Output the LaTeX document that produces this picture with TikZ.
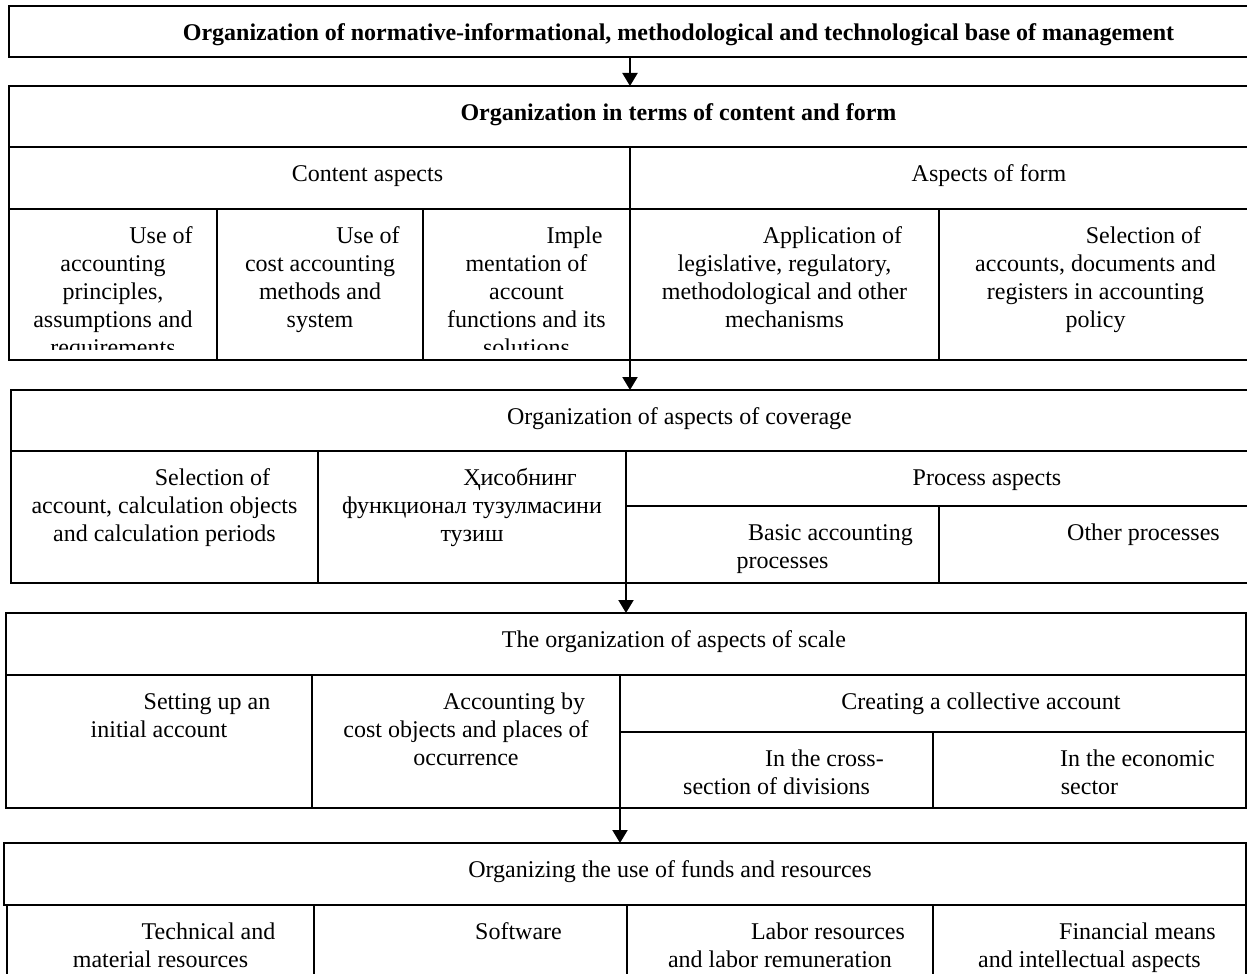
\documentclass[tikz,border=0pt]{standalone}
\usepackage{fontspec}
\setmainfont{Liberation Serif}
\usetikzlibrary{arrows.meta}
\tikzset{
  cellbox/.style={draw, line width=1pt, rectangle, inner sep=0pt, outer sep=0pt},
  txt/.style={font=\fontsize{12}{14}\selectfont, align=center, anchor=north, inner sep=0pt},
  arr/.style={line width=1pt, -{Triangle[width=7.5pt,length=6.5pt]}}
}
\newcommand\mycell[5]{\node[cellbox, anchor=north west, minimum width={(#4-#2)*0.5pt}, minimum height={(#5-#3)*0.5pt}] (#1) at (#2,#3) {};}
\newcommand\mytext[4]{\node[txt] (#1) at (#2,#3) {\strut\hspace*{48pt}#4};}
\begin{document}
\begin{tikzpicture}[x=0.5pt,y=-0.5pt]
\clip (0,0) rectangle (1247,974);
\fill[white] (0,0) rectangle (1247,974);
% ---------- box 1
\mycell{b1}{9}{6}{1252}{57}
\mytext{t1}{630.5}{20.4}{\bfseries Organization of normative-informational, methodological and technological base of management}
% ---------- box 2
\mycell{b2t}{9}{86}{1252}{147}
\mytext{t2}{630.5}{100.4}{\bfseries Organization in terms of content and form}
\mycell{b2a}{9}{147}{630}{209}
\mycell{b2b}{630}{147}{1252}{209}
\mytext{t2a}{319.5}{161.4}{Content aspects}
\mytext{t2b}{941}{161.4}{Aspects of form}
\mycell{c1}{9}{209}{217}{360}
\mycell{c2}{217}{209}{423}{360}
\mycell{c3}{423}{209}{630}{360}
\mycell{c4}{630}{209}{939}{360}
\mycell{c5}{939}{209}{1252}{360}
\begin{scope}
\clip (9,209) rectangle (1252,349);
\mytext{tc1}{113}{223.4}{Use of\\\strut accounting\\\strut principles,\\\strut assumptions and\\\strut requirements}
\mytext{tc2}{320}{223.4}{Use of\\\strut cost accounting\\\strut methods and\\\strut system}
\mytext{tc3}{526.5}{223.4}{Imple\\\strut mentation of\\\strut account\\\strut functions and its\\\strut solutions}
\mytext{tc4}{784.5}{223.4}{Application of\\\strut legislative, regulatory,\\\strut methodological and other\\\strut mechanisms}
\mytext{tc5}{1095.5}{223.4}{Selection of\\\strut accounts, documents and\\\strut registers in accounting\\\strut policy}
\end{scope}
% ---------- box 3
\mycell{b3t}{11}{390}{1252}{451}
\mytext{t3}{631.5}{404.4}{Organization of aspects of coverage}
\mycell{d1}{11}{451}{318}{583}
\mycell{d2}{318}{451}{626}{583}
\mycell{d3}{626}{451}{1252}{506}
\mycell{d4}{626}{506}{939}{583}
\mycell{d5}{939}{506}{1252}{583}
\mytext{td1}{164.5}{465.4}{Selection of\\\strut account, calculation objects\\\strut and calculation periods}
\mytext{td2}{472}{465.4}{Ҳисобнинг\\\strut функционал тузулмасини\\\strut тузиш}
\mytext{td3}{939}{465.4}{Process aspects}
\mytext{td4}{782.5}{520.4}{Basic accounting\\\strut processes}
\mytext{td5}{1095.5}{520.4}{Other processes}
% ---------- box 4
\mycell{b4t}{6}{613}{1246}{675}
\mytext{t4}{626}{627.4}{The organization of aspects of scale}
\mycell{e1}{6}{675}{312}{808}
\mycell{e2}{312}{675}{620}{808}
\mycell{e3}{620}{675}{1246}{732}
\mycell{e4}{620}{732}{933}{808}
\mycell{e5}{933}{732}{1246}{808}
\mytext{te1}{159}{689.4}{Setting up an\\\strut initial account}
\mytext{te2}{466}{689.4}{Accounting by\\\strut cost objects and places of\\\strut occurrence}
\mytext{te3}{933}{689.4}{Creating a collective account}
\mytext{te4}{776.5}{746.4}{In the cross-\\\strut section of divisions}
\mytext{te5}{1089.5}{746.4}{In the economic\\\strut sector}
% ---------- box 5
\mycell{b5t}{4}{843}{1246}{905}
\mytext{t5}{622}{857.4}{Organizing the use of funds and resources}
\mycell{f1}{7}{905}{314}{990}
\mycell{f2}{314}{905}{627}{990}
\mycell{f3}{627}{905}{933}{990}
\mycell{f4}{933}{905}{1246}{990}
\mytext{tf1}{160.5}{919.4}{Technical and\\\strut material resources}
\mytext{tf2}{470.5}{919.4}{Software}
\mytext{tf3}{780}{919.4}{Labor resources\\\strut and labor remuneration}
\mytext{tf4}{1089.5}{919.4}{Financial means\\\strut and intellectual aspects}
% ---------- arrows
\draw[arr] (b1.south -| b2b.north west) -- (b2t.north -| b2b.north west);
\draw[arr] (c3.south east) -- (c3.south east |- b3t.north);
\draw[arr] (d2.south east) -- (d2.south east |- b4t.north);
\draw[arr] (e2.south east) -- (e2.south east |- b5t.north);
\end{tikzpicture}
\end{document}
